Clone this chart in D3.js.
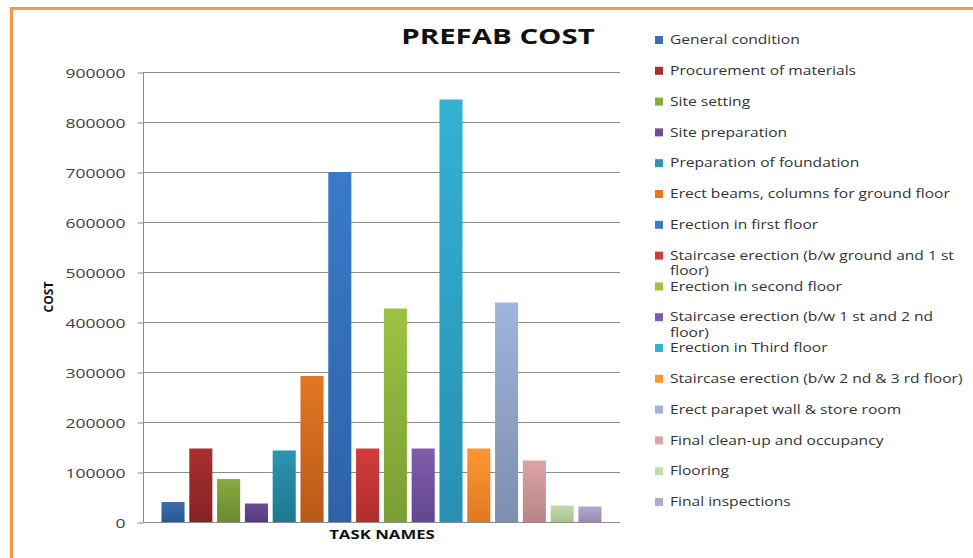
<!DOCTYPE html>
<html>
<head>
<meta charset="utf-8">
<script src="https://cdn.jsdelivr.net/npm/d3@7"></script>
<style>
  body { margin: 0; background: #fff; }
  text { font-family: "Open Sans", sans-serif; }
</style>
</head>
<body>
<div id="chart"></div>
<script>
var tasks = [
  "General condition",
  "Procurement of materials",
  "Site setting",
  "Site preparation",
  "Preparation of foundation",
  "Erect beams, columns for ground floor",
  "Erection in first floor",
  "Staircase erection (b/w ground and 1 st floor)",
  "Erection in second floor",
  "Staircase erection (b/w 1 st and 2 nd floor)",
  "Erection in Third floor",
  "Staircase erection (b/w 2 nd & 3 rd floor)",
  "Erect parapet wall & store room",
  "Final clean-up and occupancy",
  "Flooring",
  "Final inspections"
];
var costs = [40000, 147000, 86000, 37000, 143000, 292000, 700000, 147000,
             427000, 147000, 845000, 147000, 439000, 123000, 33000, 31000];
var yTicks = [0, 100000, 200000, 300000, 400000, 500000, 600000, 700000, 800000, 900000];
// top / bottom shade of each bar
var topColors = ["#3b6db0", "#a93030", "#88aa40", "#6c4d96", "#2c95b2", "#e27624",
                 "#3a7ac9", "#d23c3c", "#9cc244", "#7f5dab", "#33b2d2", "#ff9634",
                 "#9fb4dc", "#dca4a4", "#c4dcaa", "#b4a8d0"];
var botColors = ["#295690", "#862222", "#6a8a2e", "#533a7c", "#1f7890", "#b85a18",
                 "#2e62a8", "#b02e2e", "#7a9e32", "#644690", "#2890b0", "#e07820",
                 "#7d8fae", "#b88484", "#a8c090", "#9888b0"];

var width = 973, height = 558;
var sx = 1.4, legSx = 1.3;

var svg = d3.select("#chart").append("svg")
    .attr("width", width)
    .attr("height", height);

svg.append("rect").attr("width", width).attr("height", height).attr("fill", "#fff");
svg.append("rect")
    .attr("x", 11.5).attr("y", 8.5)
    .attr("width", 1000).attr("height", 700)
    .attr("fill", "none")
    .attr("stroke", "#f79646")
    .attr("stroke-width", 3);

var plotLeft = 143, plotRight = 620;

var y = d3.scaleLinear().domain([0, 900000]).range([522, 72]);
var x = d3.scaleBand().domain(tasks).range([161.5, 601.5]).paddingInner(0.17).paddingOuter(0);

var defs = svg.append("defs");
tasks.forEach(function(t, i) {
  var g = defs.append("linearGradient")
      .attr("id", "grad" + i)
      .attr("x1", 0).attr("y1", 0).attr("x2", 0).attr("y2", 1);
  g.append("stop").attr("offset", "0%").attr("stop-color", topColors[i]);
  g.append("stop").attr("offset", "100%").attr("stop-color", botColors[i]);
});

// gridlines
svg.append("g")
  .selectAll("line")
  .data(yTicks)
  .enter().append("line")
  .attr("x1", plotLeft).attr("x2", plotRight)
  .attr("y1", function(d) { return Math.round(y(d)) + 0.5; })
  .attr("y2", function(d) { return Math.round(y(d)) + 0.5; })
  .attr("stroke", "#8c8c8c")
  .attr("stroke-width", 1);

// y axis
var yAxis = svg.append("g")
    .attr("transform", "translate(" + (plotLeft + 0.5) + ",0.5)")
    .call(d3.axisLeft(y).tickValues(yTicks).tickSize(6).tickFormat(d3.format("d")));
yAxis.select(".domain").attr("stroke", "#8c8c8c").attr("d", "M0," + y(900000) + "V" + y(0));
yAxis.selectAll(".tick line").attr("stroke", "#8c8c8c");
yAxis.selectAll(".tick text")
    .attr("x", 0)
    .attr("dy", "0.36em")
    .attr("transform", "translate(-18,0) scale(" + sx + ",1)")
    .attr("fill", "#404040")
    .style("font-family", "Open Sans")
    .style("font-size", "12.5px");

// bars
svg.append("g")
  .selectAll("rect")
  .data(costs)
  .enter().append("rect")
  .attr("x", function(d, i) { return x(tasks[i]); })
  .attr("y", function(d) { return y(d); })
  .attr("width", x.bandwidth())
  .attr("height", function(d) { return y(0) - y(d); })
  .attr("fill", function(d, i) { return "url(#grad" + i + ")"; });

// baseline
svg.append("line")
  .attr("x1", plotLeft).attr("x2", plotRight)
  .attr("y1", Math.round(y(0)) + 0.5).attr("y2", Math.round(y(0)) + 0.5)
  .attr("stroke", "#8c8c8c");

// title
svg.append("text")
  .attr("transform", "translate(498,44) scale(" + sx + ",1)")
  .attr("text-anchor", "middle")
  .style("font-size", "21px")
  .style("font-weight", "bold")
  .attr("fill", "#111")
  .text("PREFAB COST");

svg.append("text")
  .attr("transform", "translate(382,539) scale(" + sx + ",1)")
  .attr("text-anchor", "middle")
  .style("font-size", "12px")
  .style("font-weight", "bold")
  .attr("fill", "#111")
  .text("TASK NAMES");

svg.append("text")
  .attr("transform", "translate(53,297) rotate(-90)")
  .attr("text-anchor", "middle")
  .style("font-size", "12px")
  .style("font-weight", "bold")
  .attr("fill", "#111")
  .text("COST");

// legend
var maxLine = 298 / legSx;
var legend = svg.append("g");
var items = legend.selectAll("g")
  .data(tasks)
  .enter().append("g")
  .attr("transform", function(d, i) { return "translate(655," + (40 + i * 30.8) + ")"; });
items.append("rect")
  .attr("x", 0).attr("y", -4)
  .attr("width", 8).attr("height", 8)
  .attr("fill", function(d, i) { return topColors[i]; });
items.append("text")
  .attr("transform", "translate(15,0) scale(" + legSx + ",1)")
  .attr("dy", "0.35em")
  .attr("fill", "#333")
  .style("font-size", "12px")
  .text(function(d) { return d; })
  .each(function(d) {
    var el = d3.select(this);
    if (this.getComputedTextLength() <= maxLine) return;
    var words = d.split(" "), line = [], lines = [];
    el.text(null);
    var probe = el.append("tspan");
    words.forEach(function(w) {
      line.push(w);
      probe.text(line.join(" "));
      if (probe.node().getComputedTextLength() > maxLine && line.length > 1) {
        line.pop();
        lines.push(line.join(" "));
        line = [w];
      }
    });
    lines.push(line.join(" "));
    probe.remove();
    lines.forEach(function(l, k) {
      el.append("tspan").attr("x", 0).attr("dy", k === 0 ? "0.35em" : "15.5px").text(l);
    });
    el.attr("dy", null);
  });
</script>
</body>
</html>
